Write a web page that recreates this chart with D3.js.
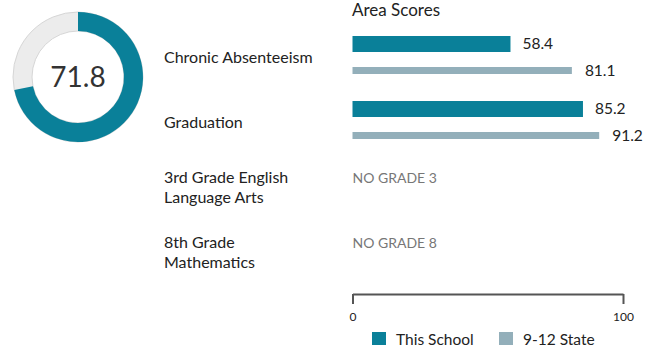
<!DOCTYPE html>
<html>
<head>
<meta charset="utf-8">
<script src="https://cdn.jsdelivr.net/npm/d3@7"></script>
<style>
  html, body { margin: 0; padding: 0; background: #fff; }
  svg { display: block; font-family: Lato, "Open Sans", sans-serif; }
</style>
</head>
<body>
<svg id="chart" width="655" height="345"></svg>
<script>
// Overall score shown in the ring
const overallScore = 71.8;

// Score areas, in display order
const categories = [
  "Chronic Absenteeism",
  "Graduation",
  "3rd Grade English Language Arts",
  "8th Grade Mathematics"
];
// Wrapped label lines for each area
const categoryLines = [
  ["Chronic Absenteeism"],
  ["Graduation"],
  ["3rd Grade English", "Language Arts"],
  ["8th Grade", "Mathematics"]
];
// null = no score available for that area
const schoolValues = [58.4, 85.2, null, null];
const stateValues = [81.1, 91.2, null, null];
const missingText = [null, null, "NO GRADE 3", "NO GRADE 8"];

const seriesNames = ["This School", "9-12 State"];
const axisTicks = [0, 100];

const teal = "#0a8099";
const slate = "#93afba";

const svg = d3.select("#chart");

// ---- Ring ----
const ring = svg.append("g").attr("transform", "translate(78,77)");
const arc = d3.arc().innerRadius(46).outerRadius(65);
ring.append("path")
  .attr("d", arc({ startAngle: 0, endAngle: 2 * Math.PI }))
  .attr("fill", "#ececec")
  .attr("stroke", "#d6d6d6")
  .attr("stroke-width", 1);
ring.append("path")
  .attr("d", arc({ startAngle: 0, endAngle: 2 * Math.PI * overallScore / 100 }))
  .attr("fill", teal);
ring.append("text")
  .attr("text-anchor", "middle")
  .attr("dy", "0.36em")
  .attr("font-size", 28)
  .attr("fill", "#333")
  .text(overallScore.toFixed(1));

// ---- Bars ----
const x = d3.scaleLinear().domain([0, 100]).range([352.5, 623]);
const y = d3.scaleBand().domain(categories).range([24.5, 284.5]);

svg.append("text")
  .attr("x", 352)
  .attr("y", 16)
  .attr("font-size", 17)
  .attr("fill", "#222")
  .text("Area Scores");

const rows = svg.selectAll("g.row")
  .data(categories)
  .join("g")
  .attr("class", "row")
  .attr("transform", d => `translate(0,${y(d) + y.bandwidth() / 2})`);

// category labels
rows.append("text")
  .attr("x", 164)
  .attr("font-size", 16)
  .attr("fill", "#222")
  .each(function (d, i) {
    const lines = categoryLines[i];
    const t = d3.select(this);
    const start = lines.length === 1 ? 0 : -9.5;
    lines.forEach((ln, k) => {
      t.append("tspan")
        .attr("x", 164)
        .attr("y", start + k * 19.5)
        .attr("dy", "0.35em")
        .text(ln);
    });
  });

rows.each(function (d, i) {
  const g = d3.select(this);
  if (schoolValues[i] != null) {
    g.append("rect")
      .attr("x", x(0)).attr("y", -21)
      .attr("width", x(schoolValues[i]) - x(0)).attr("height", 16)
      .attr("fill", teal);
    g.append("text")
      .attr("x", x(schoolValues[i]) + 12).attr("y", -13)
      .attr("dy", "0.35em")
      .attr("font-size", 15.5).attr("fill", "#222")
      .text(schoolValues[i].toFixed(1));
  }
  if (stateValues[i] != null) {
    g.append("rect")
      .attr("x", x(0)).attr("y", 10)
      .attr("width", x(stateValues[i]) - x(0)).attr("height", 7)
      .attr("fill", slate);
    g.append("text")
      .attr("x", x(stateValues[i]) + 13).attr("y", 14)
      .attr("dy", "0.35em")
      .attr("font-size", 15.5).attr("fill", "#222")
      .text(stateValues[i].toFixed(1));
  }
  if (missingText[i]) {
    g.append("text")
      .attr("x", x(0)).attr("y", -9)
      .attr("dy", "0.35em")
      .attr("font-size", 14).attr("fill", "#777")
      .text(missingText[i]);
  }
});

// ---- Axis ----
const axis = svg.append("g").attr("transform", "translate(0,294)");
axis.call(d3.axisBottom(x).tickValues(axisTicks).tickSize(10).tickSizeOuter(0).tickPadding(8));
axis.select(".domain").attr("stroke", "#555").attr("stroke-width", 2);
axis.selectAll(".tick line").attr("stroke", "#555").attr("stroke-width", 2);
axis.selectAll(".tick text")
  .attr("font-family", "Lato, sans-serif")
  .attr("font-size", 12).attr("fill", "#222");

// ---- Legend ----
const legendX = [372, 499];
const legendColors = [teal, slate];
const legend = svg.selectAll("g.legend")
  .data(seriesNames)
  .join("g")
  .attr("class", "legend")
  .attr("transform", (d, i) => `translate(${legendX[i]},332)`);
legend.append("rect")
  .attr("width", 14).attr("height", 14)
  .attr("fill", (d, i) => legendColors[i]);
legend.append("text")
  .attr("x", 24).attr("y", 8)
  .attr("dy", "0.35em")
  .attr("font-size", 15.5).attr("fill", "#222")
  .text(d => d);
</script>
</body>
</html>
